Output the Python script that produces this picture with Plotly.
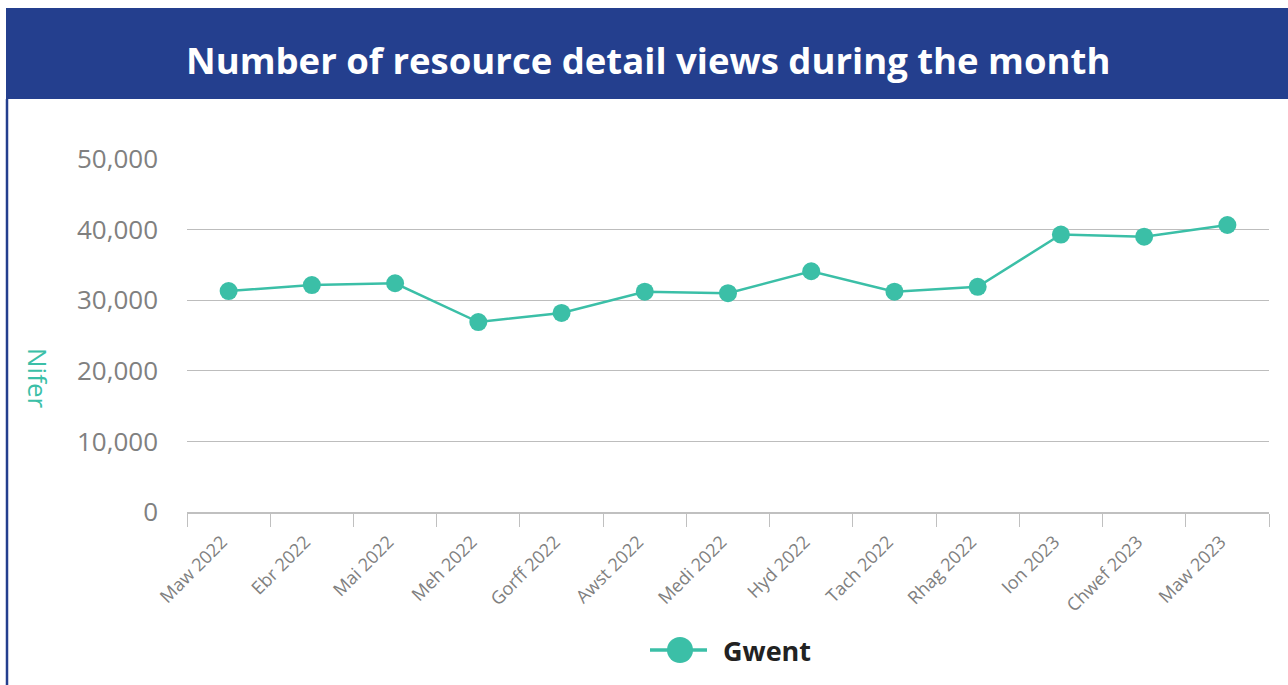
import plotly.graph_objects as go

months = ["Maw 2022", "Ebr 2022", "Mai 2022", "Meh 2022", "Gorff 2022", "Awst 2022",
          "Medi 2022", "Hyd 2022", "Tach 2022", "Rhag 2022", "Ion 2023", "Chwef 2023", "Maw 2023"]
gwent = [31300, 32150, 32400, 26900, 28200, 31200, 31000, 34100, 31200, 31900, 39300, 39000, 40650]
y_ticks = [0, 10000, 20000, 30000, 40000, 50000]
y_tick_text = ["0", "10,000", "20,000", "30,000", "40,000", "50,000"]

TEAL = "#3BBFA7"
NAVY = "#243F8E"
W, H = 1288, 685
L, R, T, B = 187, 19, 159, 173
PW = W - L - R
PH = H - T - B

def px(x):
    return (x - L) / PW

def py(y):
    return (H - B - y) / PH

fig = go.Figure()
fig.add_trace(go.Scatter(
    x=months, y=gwent, mode="lines+markers", name="Gwent",
    line=dict(color=TEAL, width=2.5),
    marker=dict(color=TEAL, size=18),
    showlegend=False,
))

shapes = [
    dict(type="rect", xref="paper", yref="paper", x0=px(6), x1=px(1292), y0=py(99), y1=py(8),
         fillcolor=NAVY, line=dict(width=0), layer="below"),
    dict(type="line", xref="paper", yref="paper", x0=px(7), x1=px(7), y0=py(99), y1=py(690),
         line=dict(color=NAVY, width=2.5), layer="below"),
    # legend symbol
    dict(type="line", xref="paper", yref="paper", x0=px(650), x1=px(707), y0=py(650), y1=py(650),
         line=dict(color=TEAL, width=3.5)),
    dict(type="circle", xref="paper", yref="paper", x0=px(667), x1=px(693), y0=py(663), y1=py(637),
         fillcolor=TEAL, line=dict(width=0)),
]

annotations = [
    dict(text="<b>Number of resource detail views during the month</b>", xref="paper", yref="paper",
         x=px(648), y=py(60), xanchor="center", yanchor="middle", showarrow=False,
         font=dict(family="Open Sans", size=36.5, color="white")),
    dict(text="Nifer", xref="paper", yref="paper", x=px(38), y=py(378), textangle=90,
         xanchor="center", yanchor="middle", showarrow=False,
         font=dict(family="Open Sans", size=26, color=TEAL)),
    dict(text="<b>Gwent</b>", xref="paper", yref="paper", x=px(721), y=py(650),
         xanchor="left", yanchor="middle", showarrow=False,
         font=dict(family="Open Sans", size=27, color="#222222")),
]

fig.update_layout(
    width=W, height=H,
    margin=dict(l=L, r=R, t=T, b=B, pad=0),
    paper_bgcolor="white", plot_bgcolor="white",
    shapes=shapes, annotations=annotations,
    font=dict(family="Open Sans", color="#808080"),
    xaxis=dict(
        type="category", range=[-0.5, len(months) - 0.5],
        tickmode="array", tickvals=months, ticktext=[m + "\u00a0\u00a0" for m in months],
        tickson="boundaries", ticks="outside", ticklen=13, tickcolor="#c0c0c0", tickwidth=1,
        showline=True, linecolor="#c0c0c0", linewidth=1.5, showgrid=False,
        tickangle=-45, tickfont=dict(family="Open Sans", size=18, color="#808080"),
        ticklabelstandoff=4,
        fixedrange=True,
    ),
    yaxis=dict(
        range=[0, 50000], tickvals=y_ticks, ticktext=y_tick_text,
        showgrid=True, gridcolor="#bdbdbd", gridwidth=1, zeroline=False,
        ticks="", ticklabelstandoff=28,
        tickfont=dict(family="Open Sans", size=26, color="#808080"),
        fixedrange=True,
    ),
)

fig.write_html("out.html", config={"displayModeBar": False},
               post_script="document.body.style.margin='0';")
